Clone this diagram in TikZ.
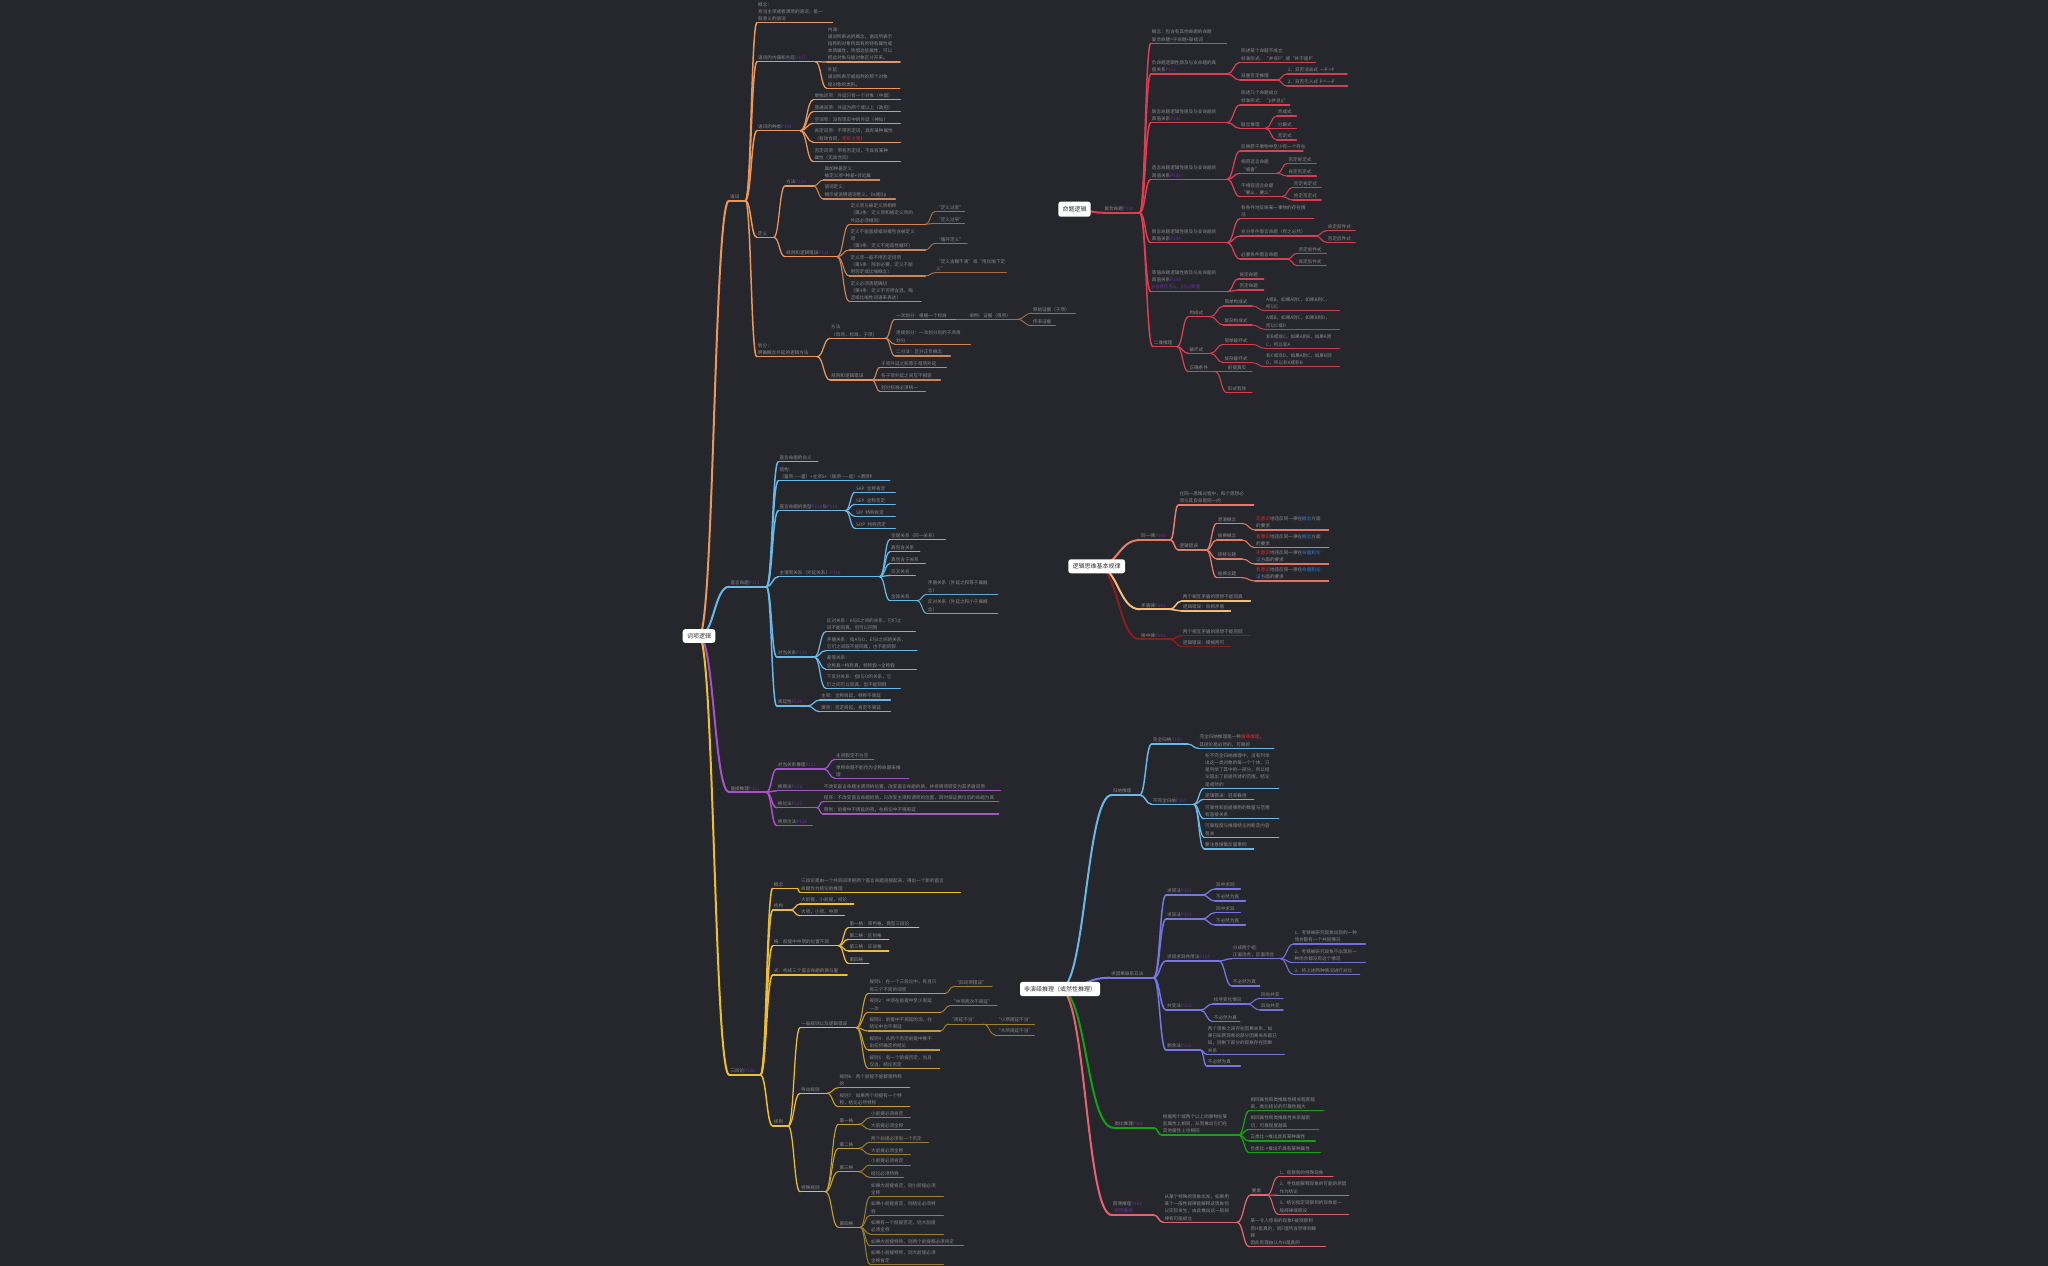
\documentclass[tikz,border=0pt]{standalone}
\usepackage{fontspec}
\setmainfont{Noto Sans CJK SC}
\usetikzlibrary{calc}
\pgfdeclarelayer{bgl}
\pgfdeclarelayer{conn}
\pgfsetlayers{bgl,conn,main}
\definecolor{bgc}{RGB}{37,39,44}
\definecolor{txt}{RGB}{138,139,141}
\definecolor{tagc}{RGB}{112,44,160}
\definecolor{orc}{RGB}{236,150,92}
\definecolor{blc}{RGB}{104,184,232}
\definecolor{puc}{RGB}{168,82,200}
\definecolor{yec}{RGB}{238,190,48}
\definecolor{rdc}{RGB}{222,62,82}
\definecolor{sac}{RGB}{232,122,104}
\definecolor{loc}{RGB}{244,190,122}
\definecolor{drc}{RGB}{140,28,28}
\definecolor{lac}{RGB}{120,118,228}
\definecolor{grc}{RGB}{22,160,22}
\definecolor{pkc}{RGB}{234,98,112}
\definecolor{hired}{RGB}{232,40,52}
\definecolor{hiblue}{RGB}{40,130,232}
\newcommand\mmfs{\fontsize{4.6pt}{7.2pt}\selectfont}
\newcommand\mtag[1]{\textcolor{tagc}{#1}}
\newcommand\mred[1]{\textcolor{hired}{#1}}
\newcommand\mblue[1]{\textcolor{hiblue}{#1}}
\tikzset{
 tx/.style={anchor=south west, inner xsep=1pt, inner ysep=1.6pt, align=left, font=\mmfs, text=txt},
 tw/.style={text width=#1pt},
 uline/.style 2 args={append after command={(\tikzlastnode.south west) edge[draw=#1, line width=#2, line cap=round] (\tikzlastnode.south east)}},
 cn/.style 2 args={draw=#1, line width=#2, line cap=round, to path={.. controls ($(\tikztostart)!0.5!(\tikztotarget|-\tikztostart)$) and ($(\tikztotarget)!0.5!(\tikztostart|-\tikztotarget)$) .. (\tikztotarget)}},
 rootbox/.style={fill=white, rounded corners=2.5pt, text=black!80, font=\fontsize{6pt}{7pt}\selectfont, inner sep=0pt}
}
\newcommand\mkb[4]{\tikzset{
 #11/.style={uline={#2}{2pt}}, c#11/.style={cn={#2}{2pt}},
 #12/.style={uline={#2}{1.5pt}}, c#12/.style={cn={#2}{1.5pt}},
 #13/.style={uline={#2}{1.25pt}}, c#13/.style={cn={#2}{1.25pt}},
 #14/.style={uline={#2!#3!bgc}{1.1pt}}, c#14/.style={cn={#2!#3!bgc}{1.1pt}},
 #15/.style={uline={#2!#4!bgc}{1pt}}, c#15/.style={cn={#2!#4!bgc}{1pt}},
 #16/.style={uline={#2!#4!bgc}{0.9pt}}, c#16/.style={cn={#2!#4!bgc}{0.9pt}}}}
\mkb{O}{orc}{85}{62}
\mkb{B}{blc}{90}{70}
\mkb{P}{puc}{90}{70}
\mkb{Y}{yec}{80}{58}
\mkb{R}{rdc}{95}{90}
\mkb{S}{sac}{95}{90}
\mkb{L}{loc}{95}{90}
\mkb{D}{drc}{95}{90}
\mkb{V}{lac}{92}{85}
\mkb{A}{blc}{95}{90}
\mkb{G}{grc}{95}{90}
\mkb{K}{pkc}{92}{85}
% child node + connector from parent's underline end
\newcommand\nd[7]{\node[tx,#1,tw=#6] (#3) at (#4,#5) {#7};
 \begin{pgfonlayer}{conn}\draw[c#1] (#2.south east) to (#3.south west);\end{pgfonlayer}}
% child node of a central topic
\newcommand\rn[7]{\node[tx,#1,tw=#6] (#3) at (#4,#5) {#7};
 \begin{pgfonlayer}{conn}\draw[c#1] (#2.center) to (#3.south west);\end{pgfonlayer}}
\begin{document}
\begin{tikzpicture}[x=1pt,y=-1pt]
\useasboundingbox (0,0) rectangle (2048,1266);
\begin{pgfonlayer}{bgl}\fill[bgc] (0,0) rectangle (2048,1266);\end{pgfonlayer}

% ================= 词项逻辑 =================
\node[rootbox, minimum width=32.6pt, minimum height=13.7pt] (r1) at (699,636) {词项逻辑};
% --- 语词 (orange)
\rn{O1}{r1}{o1}{729}{200.5}{14}{语词}
\nd{O2}{o1}{o2}{757}{22.7}{73}{概念：\\充当主项或者谓项的语词；是一\\般意义的语词}
\nd{O2}{o1}{o3}{757}{61.7}{56}{语词的内涵和外延\mtag{P107}}
\nd{O3}{o3}{o31}{826.7}{62}{71}{内涵：\\语词所表达的概念，语词所表示\\指称的对象所具有的特有属性或\\本质属性，凭借这些属性，可以\\把此对象与彼对象区分开来。}
\nd{O3}{o3}{o32}{826.7}{88.3}{70.6}{外延：\\语词所表示或指称的那个对象\\或对象的类别。}
\nd{O2}{o1}{o4}{757}{130.7}{41}{语词的种类\mtag{P108}}
\nd{O3}{o4}{o41}{813.3}{99.7}{84.7}{单独词项：外延只有一个对象（中国）}
\nd{O3}{o4}{o42}{813.3}{111.7}{84.7}{普通词项：外延为两个或以上（政府）}
\nd{O3}{o4}{o43}{813.3}{123.3}{84.7}{空词项：没有现实中的外延（神仙）}
\nd{O3}{o4}{o44}{813.3}{142.3}{84.7}{肯定词项：不带否定词，具有某种属性\\（有效合同，\mred{无价之宝}）}
\nd{O3}{o4}{o45}{813.3}{161.7}{84.7}{否定词项：带有否定词，不具有某种\\属性（无效合同）}
\nd{O2}{o1}{o5}{756.7}{237.3}{14.6}{定义}
\nd{O3}{o5}{o51}{785}{186}{26}{方法\mtag{P110}}
\nd{O4}{o51}{o511}{823.3}{180}{54}{属加种差定义：\\被定义项=种差+邻近属}
\nd{O4}{o51}{o512}{823.3}{199}{69.7}{语词定义：\\揭示或说明语词意义。Ds是Dp}
\nd{O3}{o5}{o52}{785}{256.7}{49.7}{规则和逻辑错误\mtag{P111}}
\nd{O4}{o52}{o521}{849.3}{224.3}{73.7}{定义项与被定义项相称\\（第2条：定义项和被定义项的\\外延必须相同）}
\nd{O5}{o521}{o5211}{935}{211.7}{27}{“定义过宽”}
\nd{O5}{o521}{o5212}{935}{223.3}{27}{“定义过窄”}
\nd{O4}{o52}{o522}{849.3}{250}{73.7}{定义不能直接或间接包含被定义\\项\\（第3条：定义不能恶性循环）}
\nd{O5}{o522}{o5221}{935}{243.3}{29.7}{“循环定义”}
\nd{O4}{o52}{o523}{849.3}{276}{73.7}{定义项一般不用否定词项\\（第5条：除非必要，定义不能\\用否定或比喻概念）}
\nd{O5}{o523}{o5231}{935}{272.7}{69}{“定义含糊不清”或“用比喻下定\\义”}
\nd{O4}{o52}{o524}{849.3}{301.7}{69.4}{定义必须清楚确切\\（第4条：定义不可用含混、晦\\涩或比喻性词语来表达）}
\nd{O2}{o1}{o6}{756.7}{356.7}{58}{划分：\\明确概念外延的逻辑方法}
\nd{O3}{o6}{o61}{830}{338.3}{53}{方法\\（母项，标准，子项）}
\nd{O4}{o61}{o611}{895}{319.3}{58}{一次划分：根据一个标准}
\nd{O5}{o611}{o6111}{968.3}{319.3}{46.4}{举例：证据（母项）}
\nd{O6}{o6111}{o61111}{1031.7}{313.3}{41.3}{原始证据（子项）}
\nd{O6}{o6111}{o61112}{1031.7}{325.7}{21.3}{传来证据}
\nd{O4}{o61}{o612}{895}{344.3}{73}{连续划分：一次划分后的子项再\\划分}
\nd{O4}{o61}{o613}{895}{356}{53}{二分法：区分正负概念}
\nd{O3}{o6}{o62}{830}{380}{39.7}{规则和逻辑错误}
\nd{O4}{o62}{o621}{880}{367.3}{64}{子项外延之和等于母项外延}
\nd{O4}{o62}{o622}{880}{380}{58}{各子项外延之间互不相容}
\nd{O4}{o62}{o623}{880}{391.7}{43}{划分标准必须统一}

% --- 直言命题 (blue)
\rn{B1}{r1}{b1}{729.3}{586.7}{34.7}{直言命题\mtag{P113}}
\nd{B2}{b1}{b11}{778.3}{461.7}{37}{直言命题的含义}
\nd{B2}{b1}{b12}{778.3}{480.7}{109}{结构：\\（量项——量）+主项S+（联项——是）+谓项P}
\nd{B2}{b1}{b13}{778.3}{510.7}{64.7}{直言命题的类型\mtag{P114}与\mtag{P115}}
\nd{B3}{b13}{b131}{855}{492.3}{38}{SAP\enspace 全称肯定}
\nd{B3}{b13}{b132}{855}{504.3}{38}{SEP\enspace 全称否定}
\nd{B3}{b13}{b133}{855}{516.3}{38}{SIP\enspace 特称肯定}
\nd{B3}{b13}{b134}{855}{528.3}{38}{SOP\enspace 特称否定}
\nd{B2}{b1}{b14}{778.3}{576.7}{99}{主谓项关系（外延关系）\mtag{P116}}
\nd{B3}{b14}{b141}{890}{539.3}{53}{全同关系（同一关系）}
\nd{B3}{b14}{b142}{890}{551.7}{27.3}{真包含关系}
\nd{B3}{b14}{b143}{890}{563.7}{33}{真包含于关系}
\nd{B3}{b14}{b144}{890}{575.3}{23}{交叉关系}
\nd{B3}{b14}{b145}{890}{600.7}{24.7}{全异关系}
\nd{B4}{b145}{b1451}{926.7}{594.3}{68.6}{矛盾关系（外延之和等于属概\\念）}
\nd{B4}{b145}{b1452}{926.7}{613.3}{68.6}{反对关系（外延之和小于属概\\念）}
\nd{B2}{b1}{b15}{776.7}{657}{35.3}{对当关系\mtag{P118}}
\nd{B3}{b15}{b151}{825.7}{631.7}{87.3}{反对关系：A与E之间的关系，它们之\\间不能同真，但可以同假}
\nd{B3}{b15}{b152}{825.7}{650.7}{89}{矛盾关系：指A与O、E与I之间的关系，\\它们之间既不能同真，也不能同假}
\nd{B3}{b15}{b153}{825.7}{669.3}{88.3}{差等关系：\\全称真->特称真，特称假->全称假}
\nd{B3}{b15}{b154}{825.7}{688.3}{72.3}{下反对关系：指I与O的关系，它\\们之间可以同真，但不能同假}
\nd{B2}{b1}{b16}{776.7}{706}{28}{周延性\mtag{P120}}
\nd{B3}{b16}{b161}{820}{700}{68}{主项：全称周延，特称不周延}
\nd{B3}{b16}{b162}{820}{711.7}{68}{谓项：否定周延，肯定不周延}

% --- 直接推理 (purple)
\rn{P1}{r1}{p1}{729.3}{792.3}{34.7}{直接推理\mtag{P121}}
\nd{P2}{p1}{p11}{776.7}{769}{44.6}{对当关系推理\mtag{P121}}
\nd{P3}{p11}{p111}{835}{759.3}{36.3}{主项假定不为空}
\nd{P3}{p11}{p112}{835}{778.3}{71.3}{单称命题不能作为全称命题来推\\理}
\nd{P2}{p1}{p12}{776.7}{790.7}{39.6}{换质法\mtag{P122}}
\nd{P3}{p12}{p121}{822.7}{790.7}{175.3}{不改变直言命题主谓项的位置，改变直言命题的质，并将谓项转变为其矛盾词项}
\nd{P2}{p1}{p13}{776.7}{807.7}{38}{换位法\mtag{P123}}
\nd{P3}{p13}{p131}{822.7}{801.7}{173.6}{程序：不改变直言命题的质，只改变主项和谓项的位置，同时保证换位后的命题为真}
\nd{P3}{p13}{p132}{822.7}{814}{173.6}{限制：前提中不周延的项，在结论中不得周延}
\nd{P2}{p1}{p14}{776.7}{825.7}{33}{换质位法\mtag{P124}}

% --- 三段论 (yellow)
\rn{Y1}{r1}{y1}{729.3}{1075}{28.7}{三段论\mtag{P126}}
\nd{Y2}{y1}{y11}{772.7}{888.3}{22}{概念}
\nd{Y3}{y11}{y111}{800}{892.3}{158}{三段论是由一个共同词项把两个直言命题连接起来，得出一个新的直言\\命题作为结论的推理}
\nd{Y2}{y1}{y12}{772.7}{910}{15.3}{结构}
\nd{Y3}{y12}{y121}{800}{904}{51.3}{大前提，小前提，结论}
\nd{Y3}{y12}{y122}{800}{915.7}{42}{大项，小项，中项}
\nd{Y2}{y1}{y13}{772.7}{945.7}{63.6}{格：前提中中项的位置不同}
\nd{Y3}{y13}{y131}{848.3}{927.7}{68}{第一格：审判格，典型三段论}
\nd{Y3}{y13}{y132}{848.3}{939.3}{38}{第二格：区别格}
\nd{Y3}{y13}{y133}{848.3}{951}{38}{第三格：反驳格}
\nd{Y3}{y13}{y134}{848.3}{963.3}{18}{第四格}
\nd{Y2}{y1}{y14}{772.7}{975}{72}{式：构成三个直言命题的质与量}
\nd{Y2}{y1}{y15}{772.7}{1126}{13}{规则}
\nd{Y3}{y15}{y151}{800}{1027.7}{54}{一般规则以及逻辑错误}
\nd{Y4}{y151}{y1511}{868.3}{993.3}{74.7}{规则1：在一个三段论中，有且只\\有三个不同的词项}
\nd{Y5}{y1511}{y15111}{953.3}{986.7}{36.4}{“四词项错误”}
\nd{Y4}{y151}{y1512}{868.3}{1012.3}{69.7}{规则2：中项在前提中至少周延\\一次}
\nd{Y5}{y1512}{y15121}{950}{1005.7}{44.7}{“中项两次不周延”}
\nd{Y4}{y151}{y1513}{868.3}{1031}{69.7}{规则3：前提中不周延的词，在\\结论中也不周延}
\nd{Y5}{y1513}{y15131}{948.3}{1024}{33}{“周延不当”}
\nd{Y6}{y15131}{y151311}{995}{1024}{37}{“小项周延不当”}
\nd{Y6}{y15131}{y151312}{995}{1035}{37}{“大项周延不当”}
\nd{Y4}{y151}{y1514}{868.3}{1050}{69}{规则4：从两个否定前提中推不\\出任何确定的结论}
\nd{Y4}{y151}{y1515}{868.3}{1068.7}{69}{规则5：有一个前提否定，当且\\仅当，结论否定}
\nd{Y3}{y15}{y152}{800}{1093.3}{24.7}{导出规则}
\nd{Y4}{y152}{y1521}{838.3}{1087.7}{69}{规则6：两个前提不能都是特称\\的}
\nd{Y4}{y152}{y1522}{838.3}{1106.7}{69}{规则7：如果两个前提有一个特\\称，结论必然特称}
\nd{Y3}{y15}{y153}{800}{1191.7}{23}{特殊规则}
\nd{Y4}{y153}{y1531}{838.3}{1124.3}{18}{第一格}
\nd{Y5}{y1531}{y15311}{870}{1117.7}{38}{小前提必须肯定}
\nd{Y5}{y1531}{y15312}{870}{1129.3}{38}{大前提必须全称}
\nd{Y4}{y153}{y1532}{838.3}{1148.3}{18}{第二格}
\nd{Y5}{y1532}{y15321}{870}{1142.3}{56}{两个前提必须有一个否定}
\nd{Y5}{y1532}{y15322}{870}{1154.3}{38}{大前提必须全称}
\nd{Y4}{y153}{y1533}{838.3}{1171.7}{18}{第三格}
\nd{Y5}{y1533}{y15331}{870}{1165}{38}{小前提必须肯定}
\nd{Y5}{y1533}{y15332}{870}{1177.3}{31}{结论必须特称}
\nd{Y4}{y153}{y1534}{838.3}{1227.3}{19.7}{第四格}
\nd{Y5}{y1534}{y15341}{870}{1196.7}{71}{如果大前提肯定，则小前提必须\\全称}
\nd{Y5}{y1534}{y15342}{870}{1215.3}{71}{如果小前提肯定，则结论必须特\\称}
\nd{Y5}{y1534}{y15343}{870}{1234}{71}{如果有一个前提否定，则大前提\\必须全称}
\nd{Y5}{y1534}{y15344}{870}{1245.7}{91}{如果大前提特称，则两个前提都必须肯定}
\nd{Y5}{y1534}{y15345}{870}{1264.3}{71}{如果小前提特称，则大前提必须\\全称肯定}

% ================= 命题逻辑 =================
\node[rootbox, minimum width=32.4pt, minimum height=15pt] (r2) at (1074.5,209.2) {命题逻辑};
\rn{R1}{r2}{c1}{1103.3}{212.7}{34}{复合命题\mtag{P130}}
\nd{R2}{c1}{c11}{1150.7}{43.3}{73.3}{概念：包含有其他命题的命题\\复合命题=子命题+联结词}
\nd{R2}{c1}{c12}{1150.7}{74}{74}{负命题逻辑性质及与支命题的真\\值关系\mtag{P131}}
\nd{R3}{c12}{c121}{1240}{62.3}{73}{陈述某个命题不成立\\标准形式：“并非P”或“并不是P”}
\nd{R3}{c12}{c122}{1240}{80}{34.7}{双重否定推理}
\nd{R4}{c122}{c1221}{1286.7}{74}{58}{1、双否消去式 ¬¬P->P}
\nd{R4}{c122}{c1222}{1286.7}{86}{58.6}{2、双否引入式 P->¬¬P}
\nd{R2}{c1}{c13}{1150.7}{122.7}{74}{联言命题逻辑性质及与支命题的\\真值关系\mtag{P132}}
\nd{R3}{c13}{c131}{1240}{105}{47.3}{陈述几个命题成立\\标准形式：“p并且q”}
\nd{R3}{c13}{c132}{1240}{128.3}{23}{联言推理}
\nd{R4}{c132}{c1321}{1276.7}{116}{17.3}{合成式}
\nd{R4}{c132}{c1322}{1276.7}{128.3}{17.3}{分解式}
\nd{R4}{c132}{c1323}{1276.7}{140}{17.3}{否定式}
\nd{R2}{c1}{c14}{1150.7}{179.3}{74}{选言命题逻辑性质及与支命题的\\真值关系\mtag{P133}}
\nd{R3}{c14}{c141}{1240}{151}{60.7}{反映若干事物中至少有一个存在}
\nd{R3}{c14}{c142}{1240}{173.3}{34.7}{相容选言命题\\“或者”}
\nd{R4}{c142}{c1421}{1287.3}{163.3}{26.7}{否定肯定式}
\nd{R4}{c142}{c1422}{1287.3}{176}{26.7}{肯定否定式}
\nd{R3}{c14}{c143}{1240}{196.7}{39.7}{不相容选言命题\\“要么，要么”}
\nd{R4}{c143}{c1431}{1292.7}{187.3}{26}{否定肯定式}
\nd{R4}{c143}{c1432}{1292.7}{200}{26}{肯定否定式}
\nd{R2}{c1}{c15}{1150.7}{242.7}{74}{假言命题逻辑性质及与支命题的\\真值关系\mtag{P134}}
\nd{R3}{c15}{c151}{1240}{218.7}{71.3}{有条件地反映某一事物的存在情\\况}
\nd{R3}{c15}{c152}{1240}{236}{73}{充分条件假言命题（有之必然）}
\nd{R4}{c152}{c1521}{1326.7}{230.7}{26.3}{肯定前件式}
\nd{R4}{c152}{c1522}{1326.7}{242.3}{26.3}{否定后件式}
\nd{R3}{c15}{c153}{1240}{259}{44.7}{必要条件假言命题}
\nd{R4}{c153}{c1531}{1297.3}{253.3}{26.7}{否定前件式}
\nd{R4}{c153}{c1532}{1297.3}{265.7}{26.7}{肯定后件式}
\nd{R2}{c1}{c16}{1150.7}{291.7}{74}{等值命题逻辑性质及与支命题的\\真值关系\mtag{P135}\\\mtag{p当且仅当q，p与q等值}}
\nd{R3}{c16}{c161}{1238.3}{279}{23}{肯定命题}
\nd{R3}{c16}{c162}{1238.3}{290}{23}{否定命题}
\nd{R2}{c1}{c17}{1152.7}{346.7}{22}{二难推理}
\nd{R3}{c17}{c171}{1188.3}{316.7}{19.7}{构成式}
\nd{R4}{c171}{c1711}{1223.3}{306}{26.4}{简单构成式}
\nd{R5}{c1711}{c17111}{1265}{310.7}{72.3}{A或B，如果A则C，如果B则C，\\所以C}
\nd{R4}{c171}{c1712}{1223.3}{325}{26.4}{复杂构成式}
\nd{R5}{c1712}{c17121}{1265}{329.3}{72.3}{A或B，如果A则C，如果B则D，\\所以C或D}
\nd{R3}{c17}{c172}{1188.3}{353.3}{19.7}{破坏式}
\nd{R4}{c172}{c1721}{1223.3}{344.3}{26.4}{简单破坏式}
\nd{R5}{c1721}{c17211}{1265}{348.3}{72.3}{非B或非C，如果A则B，如果A则\\C，所以非A}
\nd{R4}{c172}{c1722}{1223.3}{362.7}{26.4}{复杂破坏式}
\nd{R5}{c1722}{c17221}{1265}{366.7}{72.3}{非C或非D，如果A则C，如果B则\\D，所以非A或非B}
\nd{R3}{c17}{c173}{1188.3}{371.7}{24.7}{正确条件}
\nd{R4}{c173}{c1731}{1226.7}{371.7}{23}{前提真实}
\nd{R4}{c173}{c1732}{1226.7}{392.7}{23}{形式有效}

% ================= 逻辑思维基本规律 =================
\node[rootbox, minimum width=56.7pt, minimum height=14pt] (r3) at (1096.7,566.3) {逻辑思维基本规律};
\rn{S1}{r3}{s1}{1140}{540}{28}{同一律\mtag{P140}}
\nd{S2}{s1}{s11}{1178.3}{505}{73}{在同一思维过程中，每个思想必\\须与其自身是同一的}
\nd{S2}{s1}{s12}{1178.3}{550}{25.7}{逻辑错误}
\nd{S3}{s12}{s121}{1216.7}{523.3}{23}{混淆概念}
\nd{S4}{s121}{s1211}{1255}{530}{71.3}{\mred{无意识}地违反同一律在\mblue{概念}方面\\的要求}
\nd{S3}{s12}{s122}{1216.7}{540}{23}{偷换概念}
\nd{S4}{s122}{s1221}{1255}{547.7}{71.3}{\mred{有意识}地违反同一律在\mblue{概念}方面\\的要求}
\nd{S3}{s12}{s123}{1216.7}{559}{23}{转移论题}
\nd{S4}{s123}{s1231}{1255}{564}{71.3}{\mred{无意识}地违反同一律在\mblue{命题和论}\\\mblue{证}方面的要求}
\nd{S3}{s12}{s124}{1216.7}{577.7}{23}{偷换论题}
\nd{S4}{s124}{s1241}{1255}{581}{71.3}{\mred{有意识}地违反同一律在\mblue{命题和论}\\\mblue{证}方面的要求}
\rn{L1}{r3}{s2}{1140}{609.3}{27.3}{矛盾律\mtag{P141}}
\nd{L2}{s2}{s21}{1181.7}{601}{66.3}{两个相互矛盾的思想不能同真}
\nd{L2}{s2}{s22}{1181.7}{611}{46.3}{逻辑错误：自相矛盾}
\rn{D1}{r3}{s3}{1140}{639.3}{28}{排中律\mtag{P142}}
\nd{D2}{s3}{s31}{1181.7}{635.7}{66.3}{两个相互矛盾的思想不能同假}
\nd{D2}{s3}{s32}{1181.7}{646.7}{46.3}{逻辑错误：模棱两可}

% ================= 非演绎推理 =================
\node[rootbox, minimum width=80pt, minimum height=14.3pt] (r4) at (1060,989) {非演绎推理（或然性推理）};
\rn{A1}{r4}{n1}{1111.7}{795}{25.6}{归纳推理}
\nd{A2}{n1}{n11}{1151.7}{744}{33.6}{完全归纳\mtag{P150}}
\nd{A3}{n11}{n111}{1198.3}{748.3}{73}{完全归纳推理是一种\mred{演绎推理}，\\其结论是必然的，可靠的}
\nd{A2}{n1}{n12}{1151.7}{804.3}{39.6}{不完全归纳\mtag{P151}}
\nd{A3}{n12}{n121}{1204}{788.3}{72.3}{在不完全归纳推理中，没有列举\\出这一类对象的每一个个体，只\\是列举了其中的一部分，所以结\\论超出了前提所述的范围，结论\\是或然的}
\nd{A3}{n12}{n122}{1204}{799.3}{47.3}{逻辑错误：轻率概括}
\nd{A3}{n12}{n123}{1204}{818.7}{72.3}{可靠性和前提事例的数量与范围\\有直接关系}
\nd{A3}{n12}{n124}{1204}{837.3}{72.3}{可靠程度与推理结论的断定内容\\有关}
\nd{A3}{n12}{n125}{1204}{849}{47.3}{要注意搜集反面事例}
\rn{V1}{r4}{v1}{1110}{977.7}{41.3}{求因果联系五法}
\nd{V2}{v1}{v11}{1166}{895}{33.7}{求同法\mtag{P152}}
\nd{V3}{v11}{v111}{1215}{889}{23}{异中求同}
\nd{V3}{v11}{v112}{1215}{901}{28}{不必然为真}
\nd{V2}{v1}{v12}{1166}{919}{33.7}{求异法\mtag{P153}}
\nd{V3}{v12}{v121}{1215}{912.7}{23}{同中求异}
\nd{V3}{v12}{v122}{1215}{925}{28}{不必然为真}
\nd{V2}{v1}{v13}{1166}{961}{50.3}{求同求异并用法\mtag{P154}}
\nd{V3}{v13}{v131}{1231.7}{958.7}{46.3}{分成两个组：\\正面场合，反面场合}
\nd{V4}{v131}{v1311}{1293.3}{944}{69.7}{1、考察被研究现象出现的一种\\场合都有一个共同情况}
\nd{V4}{v131}{v1312}{1293.3}{962.7}{69.7}{2、考察被研究现象不出现的一\\种场合都没有这个情况}
\nd{V4}{v131}{v1313}{1293.3}{974.3}{64}{3、将上述两种情况进行对比}
\nd{V3}{v13}{v132}{1231.7}{986}{25.6}{不必然为真}
\nd{V2}{v1}{v14}{1166}{1010}{32}{共变法\mtag{P155}}
\nd{V3}{v14}{v141}{1212.7}{1004}{32}{找寻变化情况}
\nd{V4}{v141}{v1411}{1260}{998.3}{20.7}{同向共变}
\nd{V4}{v141}{v1412}{1260}{1010}{20.7}{异向共变}
\nd{V3}{v14}{v142}{1212.7}{1021.7}{24.6}{不必然为真}
\nd{V2}{v1}{v15}{1166}{1050}{32}{剩余法\mtag{P156}}
\nd{V3}{v15}{v151}{1206.7}{1054.3}{75.3}{两个现象之间存在因果关系，如\\果已知两现象的部分因果关系都已\\知，则剩下部分的现象存在因果\\关系}
\nd{V3}{v15}{v152}{1206.7}{1066}{31.3}{不必然为真}
\rn{G1}{r4}{g1}{1113.3}{1127.7}{38}{类比推理\mtag{P160}}
\nd{G2}{g1}{g11}{1161.7}{1135}{74.6}{根据两个或两个以上的事物在某\\些属性上相同，从而推出它们在\\其他属性上也相同}
\nd{G3}{g11}{g111}{1249.3}{1110.7}{72}{相同属性和类推属性相关程度越\\高，类比结论的可靠性越大}
\nd{G3}{g11}{g112}{1249.3}{1129.3}{67}{相同属性和类推属性关系越密\\切，可靠程度越高}
\nd{G3}{g11}{g113}{1249.3}{1141}{63.7}{正类比->推出具有某种属性}
\nd{G3}{g11}{g114}{1249.3}{1152.7}{68.7}{负类比->推出不具有某种属性}
\rn{K1}{r4}{k1}{1111.7}{1215}{39.6}{回溯推理\mtag{P162}\\\mtag{\ 溯因推理}}
\nd{K2}{k1}{k11}{1163.3}{1222.3}{71.4}{从某个特殊的现象出发，如果用\\某个一般性规律能解释这现象何\\以实际发生，由此推出这一般规\\律有可能成立}
\nd{K3}{k11}{k111}{1250.7}{1195}{14}{要素}
\nd{K4}{k111}{k1111}{1278.3}{1176.7}{52.4}{1、观察到的特殊现象}
\nd{K4}{k111}{k1112}{1278.3}{1195.3}{68}{2、寻找能解释现象的可能的原因\\作为结论}
\nd{K4}{k111}{k1113}{1278.3}{1214.3}{68}{3、结论指定观察到的现象是一\\般规律或假设}
\nd{K3}{k11}{k112}{1249.3}{1246.7}{73.7}{某一令人惊奇的现象F被观察到\\若H是真的，则F理所当然得到解\\释\\因此有理由认为H是真的}
\end{tikzpicture}
\end{document}
